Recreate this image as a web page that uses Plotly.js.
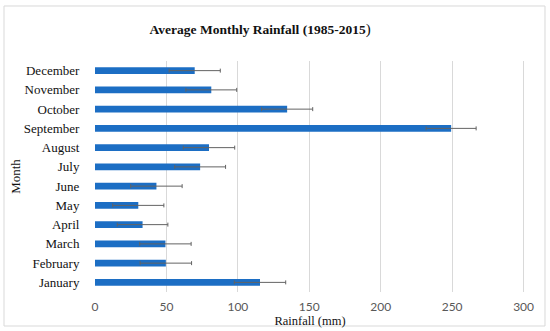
<!DOCTYPE html>
<html>
<head>
<meta charset="utf-8">
<script src="https://cdn.plot.ly/plotly-3.0.1.min.js"></script>
<style>html,body{margin:0;padding:0;background:#fff;}#chart{width:550px;height:331px;}</style>
</head>
<body>
<div id="chart"></div>
<script>
const months = ["January","February","March","April","May","June","July","August","September","October","November","December"];
const rainfall = [115.5, 49.6, 49.3, 33.3, 30.3, 43.0, 73.6, 79.8, 249.3, 134.5, 81.4, 69.8];
const errors = [18, 18, 18, 17.7, 17.9, 18, 17.8, 18, 17.5, 17.9, 17.8, 17.9];
const xTicks = [0, 50, 100, 150, 200, 250, 300];

const trace = {
  type: 'bar',
  orientation: 'h',
  y: months,
  x: rainfall,
  marker: {color: '#1c6ec4'},
  error_x: {type: 'data', array: errors, visible: true, color: '#636363', thickness: 1, width: 2},
  hoverinfo: 'x+y'
};

const layout = {
  width: 550, height: 331,
  margin: {l: 95, r: 25, t: 61, b: 39},
  paper_bgcolor: '#fff', plot_bgcolor: '#fff',
  bargap: 0.64,
  showlegend: false,
  title: {
    text: "<b>Average Monthly Rainfall (1985-2015</b><span style='font-size:15px'>)</span>",
    font: {family: 'Liberation Serif, serif', size: 13.5, color: '#111'},
    x: 0.384, xref: 'paper', xanchor: 'center',
    y: 0.912, yanchor: 'middle'
  },
  xaxis: {
    range: [0, 301],
    tickvals: xTicks,
    ticktext: xTicks.map(String),
    showgrid: true, gridcolor: '#d9d9d9', gridwidth: 1,
    zeroline: false, showline: false,
    ticks: 'outside', ticklen: 4, tickcolor: 'rgba(0,0,0,0)',
    tickfont: {family: 'Lato, Carlito, sans-serif', size: 12, color: '#595959'},
    title: {text: 'Rainfall (mm)', standoff: 0, font: {family: 'Liberation Serif, serif', size: 12.5, color: '#111'}},
    fixedrange: true
  },
  yaxis: {
    type: 'category',
    categoryorder: 'array', categoryarray: months,
    showgrid: false, zeroline: false, showline: false,
    ticks: 'outside', ticklen: 12, tickcolor: 'rgba(0,0,0,0)',
    tickfont: {family: 'Liberation Serif, serif', size: 13, color: '#111'},
    title: {text: 'Month', standoff: 0, font: {family: 'Liberation Serif, serif', size: 13, color: '#111'}},
    fixedrange: true
  },
  shapes: [{
    type: 'rect', xref: 'paper', yref: 'paper',
    x0: -0.2116, x1: 1.0465, y0: -0.1472, y1: 1.2381,
    line: {color: '#d9d9d9', width: 1}, fillcolor: 'rgba(0,0,0,0)', layer: 'below'
  }]
};

Plotly.newPlot('chart', [trace], layout, {displayModeBar: false, staticPlot: true});
</script>
</body>
</html>
